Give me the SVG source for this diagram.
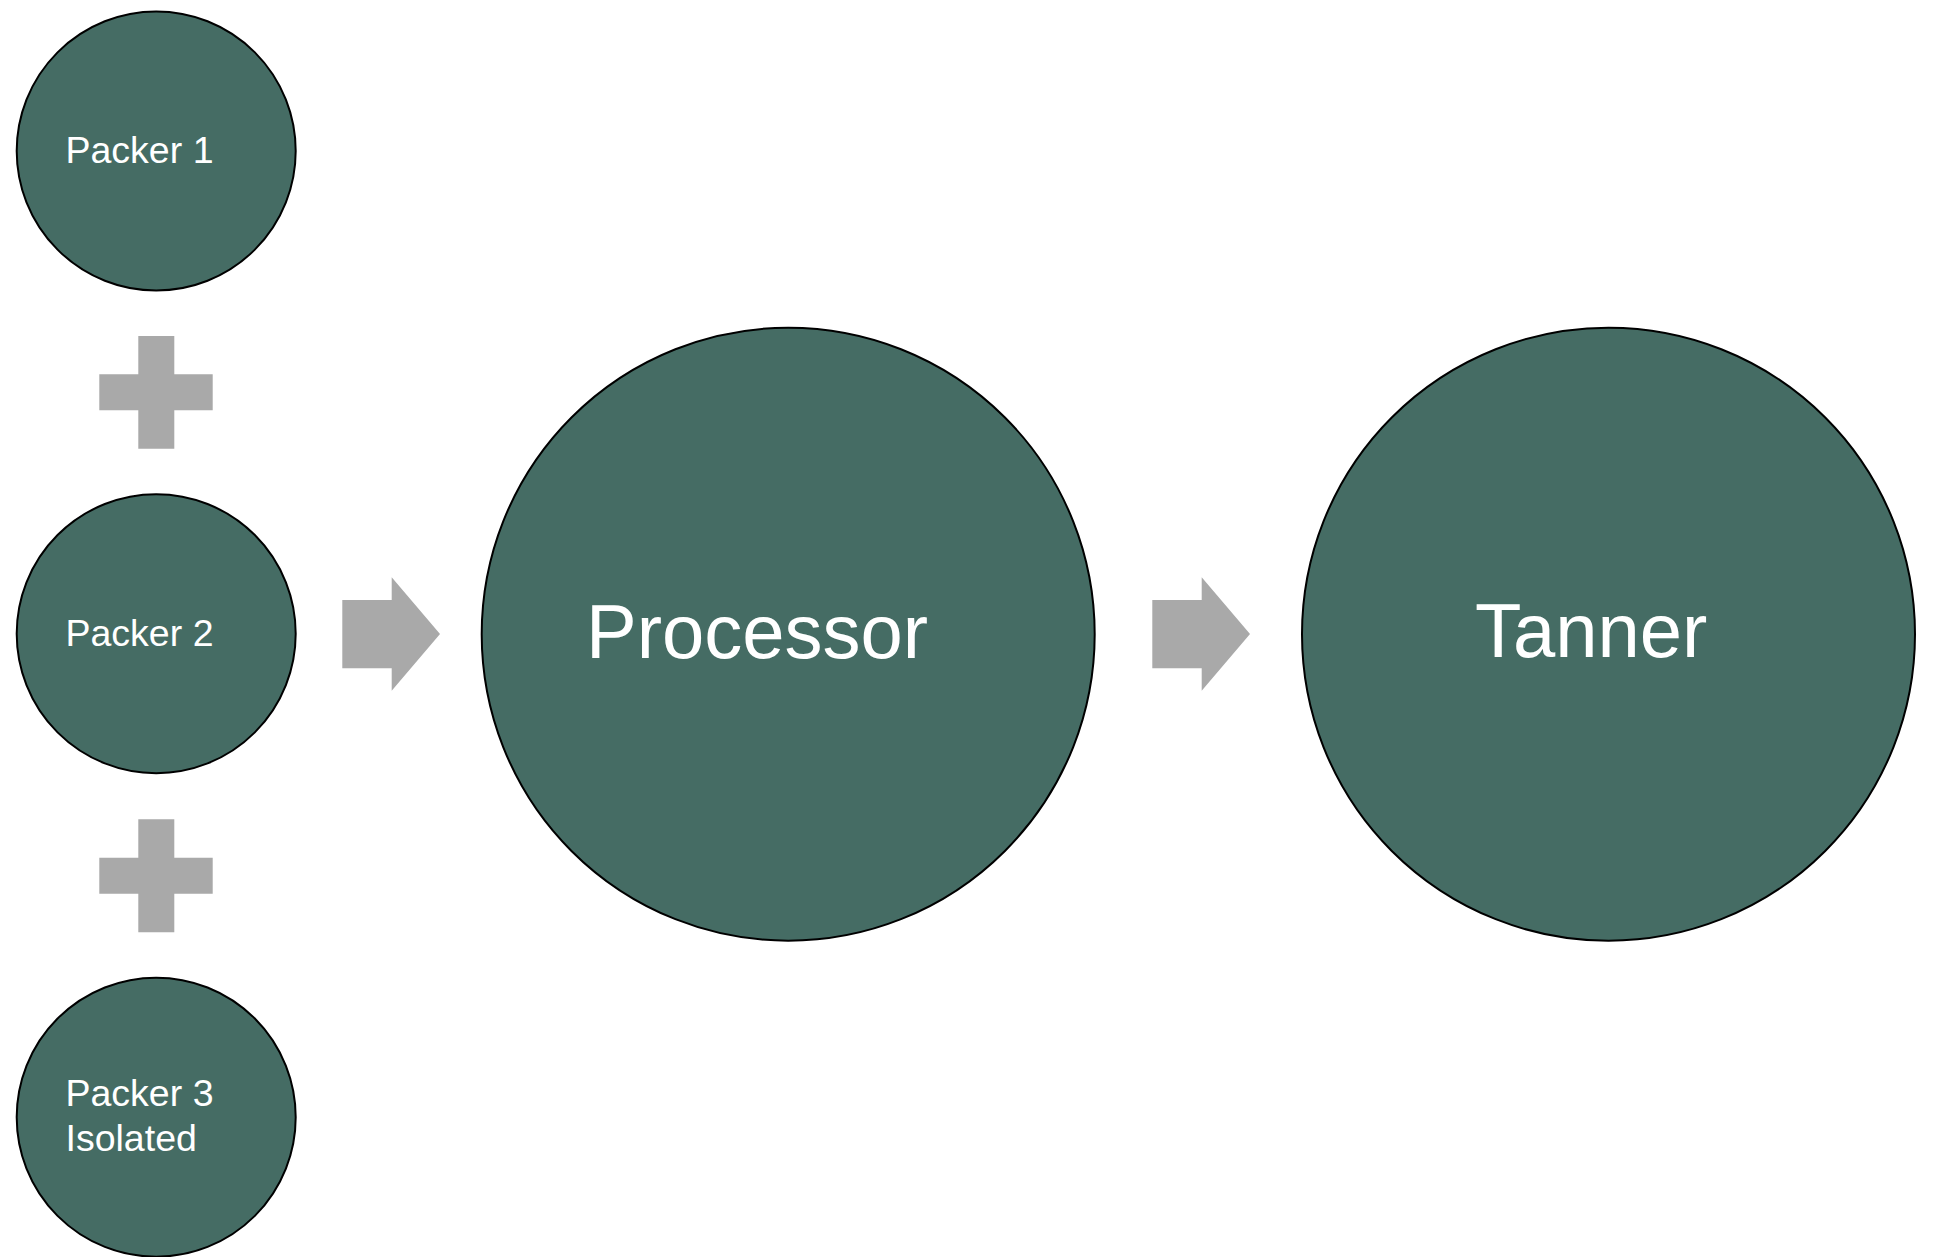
<svg xmlns="http://www.w3.org/2000/svg" width="1934" height="1257" viewBox="0 0 1934 1257">
<style>
.node{fill:#456C64;stroke:#000;stroke-width:2}
.lbl{fill:#FFFFFF}
.sm{font-size:37.5px}
.lg{font-size:76px}
.conn{fill:#A9A9A9;stroke:none}
</style>
<rect width="1934" height="1257" fill="#FFFFFF"/>
<g id="connectors">
<path class="conn" d="M138.3,336 H174.3 V374.3 H212.7 V410.3 H174.3 V448.7 H138.3 V410.3 H99.3 V374.3 H138.3 Z"/>
<path class="conn" d="M138.3,819.3 H174.3 V857.7 H212.7 V893.7 H174.3 V932.3 H138.3 V893.7 H99.3 V857.7 H138.3 Z"/>
<polygon class="conn" points="342.3,600 391.7,600 391.7,577.3 440,634 391.7,690.7 391.7,668.3 342.3,668.3"/>
<polygon class="conn" points="1152.3,600 1201.7,600 1201.7,577.3 1250,634 1201.7,690.7 1201.7,668.3 1152.3,668.3"/>
</g>
<g font-family="'Liberation Sans', Arial, Helvetica, sans-serif">
<g id="packer1">
<circle class="node" cx="156.2" cy="151" r="139.5"/>
<text class="lbl sm" x="65.5" y="163">Packer 1</text>
</g>
<g id="packer2">
<circle class="node" cx="156.2" cy="633.7" r="139.5"/>
<text class="lbl sm" x="65.5" y="645.5">Packer 2</text>
</g>
<g id="packer3">
<circle class="node" cx="156.2" cy="1117.2" r="139.5"/>
<text class="lbl sm" x="65.5" y="1105.5">Packer 3</text>
<text class="lbl sm" x="65.5" y="1151">Isolated</text>
</g>
<g id="processor">
<circle class="node" cx="788.2" cy="634.2" r="306.5"/>
<text class="lbl lg" x="586" y="658">Processor</text>
</g>
<g id="tanner">
<circle class="node" cx="1608.5" cy="634.2" r="306.5"/>
<text class="lbl lg" x="1475" y="657">Tanner</text>
</g>
</g>
</svg>
